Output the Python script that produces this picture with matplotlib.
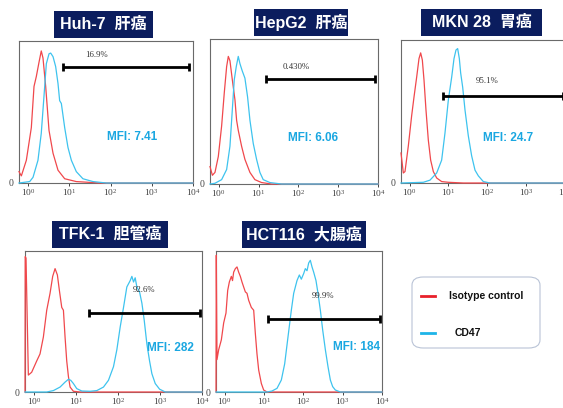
import numpy as np
import matplotlib
matplotlib.use("Agg")
import matplotlib.pyplot as plt
from matplotlib.patches import Rectangle, FancyBboxPatch
from matplotlib.lines import Line2D

# ── data: histogram outlines (x = log10 fluorescence, y = % of panel height) ──
huh7_iso_logx = [-0.22, -0.163, -0.042, 0.079, 0.144, 0.20, 0.265, 0.32, 0.362, 0.427,
                 0.508, 0.605, 0.726, 0.888, 1.17, 1.74, 4.0]
huh7_iso_y    = [8, 5, 16, 39, 68, 75, 85, 93, 88, 68, 37, 21, 9, 3, 1, 0, 0]
huh7_cd47_logx = [-0.22, 0.039, 0.12, 0.24, 0.32, 0.378, 0.443, 0.508, 0.548, 0.605, 0.669,
                  0.726, 0.766, 0.807, 0.888, 0.968, 1.05, 1.17, 1.33, 1.575, 1.9, 4.0]
huh7_cd47_y    = [0, 1, 4, 16, 35, 58, 84, 91, 91.5, 89, 82, 70, 58, 56, 39, 25, 16, 8, 3, 1, 0, 0]

hepg2_iso_logx = [-0.22, -0.16, -0.095, -0.011, 0.072, 0.139, 0.198, 0.24, 0.281, 0.34,
                  0.407, 0.448, 0.49, 0.574, 0.657, 0.783, 0.908, 1.075, 1.325, 4.0]
hepg2_iso_y    = [12, 6, 8, 19, 40, 63, 81, 88, 85, 72, 58, 44, 37, 26, 17, 8, 3, 1, 0, 0]
hepg2_cd47_logx = [-0.22, -0.095, 0.072, 0.198, 0.281, 0.34, 0.39, 0.44, 0.49, 0.532, 0.59,
                   0.657, 0.724, 0.783, 0.866, 0.95, 1.033, 1.117, 1.284, 1.576, 4.0]
hepg2_cd47_y    = [0, 0.5, 3, 10, 26, 51, 72, 81, 88, 83, 78, 73, 60, 44, 28, 17, 8, 3, 1, 0, 0]

mkn28_iso_logx = [-0.22, -0.16, -0.117, -0.031, 0.054, 0.114, 0.183, 0.243, 0.286, 0.329,
                  0.372, 0.423, 0.483, 0.543, 0.612, 0.698, 0.826, 0.998, 1.384, 4.0]
mkn28_iso_y    = [21, 7, 8, 26, 47, 60, 74, 87, 91, 86, 72, 51, 30, 16, 8, 3.5, 1, 0.5, 0, 0]
mkn28_cd47_logx = [-0.22, 0.355, 0.526, 0.698, 0.826, 0.912, 0.998, 1.084, 1.144, 1.195, 1.238,
                   1.281, 1.315, 1.367, 1.427, 1.512, 1.598, 1.684, 1.77, 1.898, 2.07, 4.0]
mkn28_cd47_y    = [0, 0.5, 2, 7, 16, 35, 58, 74, 87, 93, 94, 87, 77, 67, 51, 33, 19, 9, 5, 1, 0, 0]

tfk1_iso_logx = [-0.22, -0.215, -0.196, -0.14, -0.061, 0.059, 0.138, 0.218, 0.298, 0.377, 0.44,
                 0.497, 0.552, 0.6, 0.656, 0.696, 0.735, 0.775, 0.815, 0.855, 0.934, 1.094, 4.0]
tfk1_iso_y    = [0, 96, 95, 12, 14, 22, 27, 39, 58, 70, 82, 87.5, 83, 72, 60, 58, 39, 22,
                 11, 3.5, 0.5, 0, 0]
tfk1_cd47_logx = [-0.22, 0.298, 0.457, 0.616, 0.735, 0.815, 0.871, 0.934, 1.014, 1.133, 1.333,
                  1.492, 1.651, 1.77, 1.89, 1.97, 2.049, 2.129, 2.208, 2.288, 2.328, 2.368,
                  2.407, 2.447, 2.511, 2.567, 2.622, 2.686, 2.75, 2.805, 2.885, 2.989, 3.124, 4.0]
tfk1_cd47_y    = [0, 0, 1, 3.5, 7, 9, 8.3, 6, 2.4, 0.7, 0.5, 1, 3.5, 8.3, 18, 30, 46, 60,
                  74.5, 79, 82, 78, 81, 74.5, 71, 63, 51, 34, 22, 13, 6, 2, 0, 0]

hct116_iso_logx = [-0.22, -0.212, -0.195, -0.152, -0.084, -0.025, 0.034, 0.077, 0.119, 0.17,
                   0.2, 0.229, 0.272, 0.314, 0.356, 0.399, 0.441, 0.483, 0.526, 0.568, 0.611,
                   0.678, 0.738, 0.78, 0.822, 0.865, 0.933, 0.992, 1.077, 4.0]
hct116_iso_y    = [0, 97, 23, 30, 37, 49, 56, 72, 78, 82, 79, 85, 87.5, 88.7, 85, 82, 78,
                   74.5, 71, 70, 65, 60, 58, 41.5, 27, 15.6, 6, 1.4, 0, 0]
hct116_cd47_logx = [-0.22, 1.077, 1.204, 1.331, 1.441, 1.526, 1.61, 1.695, 1.755, 1.839, 1.899,
                    1.949, 2.009, 2.051, 2.094, 2.136, 2.178, 2.221, 2.263, 2.322, 2.373,
                    2.433, 2.492, 2.56, 2.627, 2.687, 2.746, 2.814, 2.941, 4.0]
hct116_cd47_y    = [0, 0, 0.7, 2.6, 8.5, 20, 39, 58, 70, 79, 83, 80, 84, 87.5, 86, 91.5,
                    93.4, 88.7, 85, 79, 70, 58, 44, 30, 18, 8.5, 3.8, 1.4, 0, 0]

panel_titles = ["Huh-7  肝癌", "HepG2  肝癌", "MKN 28  胃癌", "TFK-1  胆管癌", "HCT116  大腸癌"]
gate_pct     = ["16.9%", "0.430%", "95.1%", "92.6%", "99.9%"]
mfi_labels   = ["MFI: 7.41", "MFI: 6.06", "MFI: 24.7", "MFI: 282", "MFI: 184"]
gate_start   = [0.847, 1.175, 0.869, 1.317, 1.102]   # log10
gate_end     = [3.90, 3.915, 3.94, 3.96, 3.94]
gate_level   = [81.7, 72.6, 61, 56.3, 52]

iso_x  = [huh7_iso_logx, hepg2_iso_logx, mkn28_iso_logx, tfk1_iso_logx, hct116_iso_logx]
iso_y  = [huh7_iso_y, hepg2_iso_y, mkn28_iso_y, tfk1_iso_y, hct116_iso_y]
cd47_x = [huh7_cd47_logx, hepg2_cd47_logx, mkn28_cd47_logx, tfk1_cd47_logx, hct116_cd47_logx]
cd47_y = [huh7_cd47_y, hepg2_cd47_y, mkn28_cd47_y, tfk1_cd47_y, hct116_cd47_y]

# ── layout (pixel boxes on a 563 x 408 canvas) ──────────────────────────────
W, H = 563, 408
axes_px  = [(19, 193, 41, 183), (210, 378, 39, 184), (401, 565, 40, 183),
            (25, 202, 251, 392), (216, 382, 251, 392)]
title_px = [(54, 153, 11, 38), (254, 348, 9, 36), (421, 542, 9, 36),
            (52, 168, 221, 248), (242, 366, 221, 248)]
pct_pos  = [(1.655, 90), (1.95, 81), (1.984, 71), (2.606, 72), (2.5, 68)]
mfi_pos  = [(0.651, 0.324), (0.614, 0.317), (0.654, 0.314), (0.82, 0.314), (0.845, 0.32)]

RED, BLUE, MFI_BLUE, NAVY = "#F0484C", "#3EC3EE", "#1AA7E1", "#0B1D5E"
XMIN = -0.22

fig = plt.figure(figsize=(W / 100, H / 100), dpi=100)
fig.patch.set_facecolor("white")


def frac(x0, x1, y0, y1):
    return [x0 / W, 1 - y1 / H, (x1 - x0) / W, (y1 - y0) / H]


dec_labels = [r"$\mathregular{10^{%d}}$" % d for d in range(5)]

for i in range(5):
    ax = fig.add_axes(frac(*axes_px[i]))
    ax.set_xscale("log")
    ax.set_xlim(10 ** XMIN, 1e4)
    ax.set_ylim(0, 100)

    ax.plot(10 ** np.array(iso_x[i]), iso_y[i], color=RED, lw=0.9, clip_on=False, zorder=3)
    ax.plot(10 ** np.array(cd47_x[i]), cd47_y[i], color=BLUE, lw=0.9, clip_on=False, zorder=3)

    # gate bar
    gx = [10 ** gate_start[i], 10 ** gate_end[i]]
    ax.plot(gx, [gate_level[i]] * 2, color="black", lw=2.0, solid_capstyle="butt", zorder=4)
    ax.plot(gx, [gate_level[i]] * 2, ls="none", marker="|", ms=6, mew=2.0, color="black", zorder=4)
    ax.text(10 ** pct_pos[i][0], pct_pos[i][1], gate_pct[i], ha="center", va="center",
            fontsize=6.3, family="Liberation Serif", color="#333333", zorder=5)
    ax.text(mfi_pos[i][0], mfi_pos[i][1], mfi_labels[i], transform=ax.transAxes,
            ha="center", va="center", fontsize=8.5, fontweight="bold",
            family="Liberation Sans", color=MFI_BLUE, zorder=5)

    ax.set_xticks([10 ** d for d in range(5)])
    ax.set_xticklabels(dec_labels, family="Liberation Serif", fontsize=6.8)
    ax.tick_params(axis="x", which="major", direction="out", length=2.5, width=0.7,
                   colors="#444444", pad=0.5)
    ax.tick_params(axis="x", which="minor", direction="out", length=2, width=0.5,
                   colors="#444444")
    ax.set_yticks([0])
    ax.set_yticklabels(["0"], family="Liberation Serif", fontsize=7)
    ax.tick_params(axis="y", length=0, pad=4, colors="#444444")
    for sp in ax.spines.values():
        sp.set_color("#6a6a6a")
        sp.set_linewidth(0.8)

    # title box
    x0, x1, y0, y1 = title_px[i]
    fig.add_artist(Rectangle((x0 / W, 1 - y1 / H), (x1 - x0) / W, (y1 - y0) / H,
                             transform=fig.transFigure, facecolor=NAVY, edgecolor="none"))
    fig.text((x0 + x1) / 2 / W, 1 - (y0 + y1) / 2 / H, panel_titles[i],
             ha="center", va="center", color="white", fontsize=11.5, fontweight="bold",
             family=["Liberation Sans", "Noto Sans CJK JP"])

# ── legend ───────────────────────────────────────────────────────────────────
fig.add_artist(FancyBboxPatch((412 / W, 1 - 348 / H), 128 / W, 71 / H,
                              boxstyle="round,pad=0,rounding_size=0.02",
                              transform=fig.transFigure, facecolor="white",
                              edgecolor="#B9C3D6", lw=0.8))
fig.add_artist(Line2D([421 / W, 435 / W], [1 - 296 / H] * 2, color="#E8202A", lw=2.0,
                      transform=fig.transFigure))
fig.add_artist(Line2D([421 / W, 435 / W], [1 - 333 / H] * 2, color="#1EB4E8", lw=2.0,
                      transform=fig.transFigure))
fig.text(449 / W, 1 - 296 / H, "Isotype control", ha="left", va="center", fontsize=7.5,
         fontweight="bold", family="Liberation Sans", color="#111111")
fig.text(455 / W, 1 - 333 / H, "CD47", ha="left", va="center", fontsize=7.5,
         fontweight="bold", family="Liberation Sans", color="#111111")

fig.savefig("out.png", dpi=100)
